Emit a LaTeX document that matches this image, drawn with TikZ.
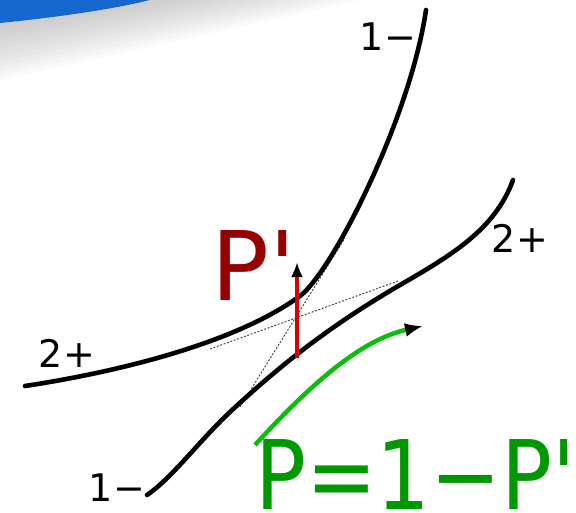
\documentclass[tikz,border=0pt]{standalone}
\usepackage{fontspec}
\usepackage{graphicx}
\setmainfont{DejaVu Sans}[Ligatures=TeXOff]
\usetikzlibrary{arrows.meta}

\def\CurveW{4.6pt}
\def\BigFont{\fontsize{96}{96}\selectfont}
\def\SmallFont{\fontsize{38}{40}\selectfont}
\definecolor{barblue}{RGB}{22,104,206}
\definecolor{pdark}{RGB}{150,0,0}
\definecolor{pgreen}{RGB}{0,152,0}
\definecolor{agreen}{RGB}{12,190,12}

\begin{document}
\begin{tikzpicture}[x=1pt,y=-1pt,
  branch/.style={line width=\CurveW, line cap=round},
  tangent/.style={black!70, line width=1pt, dash pattern=on 2pt off 1.6pt},
  lbl/.style={font=\SmallFont, inner sep=0pt},
  big/.style={font=\BigFont, inner sep=0pt}]
  \useasboundingbox (0,0) rectangle (576,512);

  % --- Barra superior ---
  \foreach \k in {0,...,11}{
    \pgfmathsetmacro\w{360-16*\k}
    \pgfmathsetmacro\h{80-4.5*\k}
    \fill[black!40, opacity=0.05] (0,0) -- (\w,0)
      .. controls (0.7*\w,0.3*\h) and (0.3*\w,0.7*\h) .. (0,\h) -- cycle;
  }
  \fill[barblue] (0,0) -- (150,0) .. controls (110,10) and (50,18) .. (0,23) -- cycle;

  % --- Tangentes ---
  \coordinate (t1a) at (210,349);
  \coordinate (t1b) at (398,281);
  \coordinate (t2a) at (240,407);
  \coordinate (t2b) at (345,238);
  \draw[tangent] (t1a) -- (t1b);
  \draw[tangent] (t2a) -- (t2b);

  % --- Ramas ---
  \draw[branch] (25,386) .. controls (130,370) and (240,340) .. (300,296)
    .. controls (332,272) and (410,119) .. (426,10);
  \draw[branch] (147,495) .. controls (172,478) and (200,440) .. (230,412)
    .. controls (290,356) and (340,320) .. (400,285)
    .. controls (450,256) and (495,230) .. (513,180);

  \node[lbl] (lblUpL) at (67,353) {2+};
  \node[lbl] (lblUpT) at (388,37) {1−};
  \node[lbl] (lblLoB) at (117,488) {1−};
  \node[lbl] (lblLoR) at (520,238) {2+};

  % --- P' ---
  \coordinate (pLow) at (297,358);
  \coordinate (pTip) at (297,262);
  \draw[red!85!black, line width=4pt,
    -{Latex[color=black, length=15pt, width=12pt]}] (pLow) -- (pTip);
  \node[big, text=pdark, anchor=base west] (pPrime) at (211,300) {P'};

  % --- P = 1 - P' ---
  \coordinate (gStart) at (255,445);
  \coordinate (gTip) at (423,326);
  \draw[agreen, line width=4.5pt,
    -{Latex[color=black, length=18pt, width=14pt]}]
    (gStart) .. controls (310,385) and (360,340) .. (gTip);
  \node[big, text=pgreen, anchor=base west] (pEq) at (255,509)
    {\scalebox{0.88}[1]{P=1−P'}};
\end{tikzpicture}
\end{document}
